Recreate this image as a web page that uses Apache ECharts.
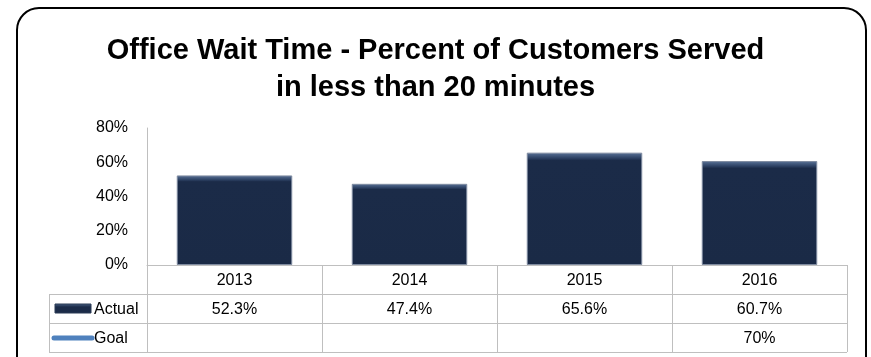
<!DOCTYPE html>
<html>
<head>
<meta charset="utf-8">
<script src="https://cdn.jsdelivr.net/npm/echarts@6/dist/echarts.min.js"></script>
<style>
  html, body { margin: 0; padding: 0; background: #fff; }
  #chart { width: 871px; height: 357px; }
</style>
</head>
<body>
<div id="chart"></div>
<script>
// data
var years = ['2013', '2014', '2015', '2016']
var actual = [52.3, 47.4, 65.6, 60.7]
var goal = [null, null, null, 70]
var yTicks = [0, 20, 40, 60, 80]

var FONT = '"Liberation Sans", Arial, sans-serif'
var GRID_LEFT = 147
var GRID_RIGHT = 24
var GRID_TOP = 128
var GRID_BOTTOM = 92
var ROW_H = 29
var TABLE_LEFT = 49
var LINE = '#bfbfbf'

var chart = echarts.init(document.getElementById('chart'))

var base = 357 - GRID_BOTTOM
var right = 871 - GRID_RIGHT

// frame, table borders + legend keys (decoration only)
var graphics = [
  {
    type: 'rect',
    shape: { x: 17, y: 8, width: 849, height: 380, r: 22 },
    style: { fill: 'none', stroke: '#000', lineWidth: 2 },
    silent: true
  }
]
for (var r = 1; r <= 3; r++) {
  graphics.push({
    type: 'line',
    shape: { x1: TABLE_LEFT, y1: base + r * ROW_H + 0.5, x2: right, y2: base + r * ROW_H + 0.5 },
    style: { stroke: LINE, lineWidth: 1 }
  })
}
graphics.push({
  type: 'line',
  shape: { x1: TABLE_LEFT + 0.5, y1: base + ROW_H, x2: TABLE_LEFT + 0.5, y2: base + 3 * ROW_H },
  style: { stroke: LINE, lineWidth: 1 }
})
graphics.push({
  type: 'rect',
  shape: { x: 55, y: base + ROW_H + 10, width: 36, height: 9 },
  style: {
    fill: new echarts.graphic.LinearGradient(0, 0, 0, 1, [
      { offset: 0, color: '#4a6286' },
      { offset: 0.35, color: '#1b2b48' },
      { offset: 1, color: '#1b2b48' }
    ]),
    stroke: '#2a3a55'
  }
})
graphics.push({
  type: 'text',
  style: { text: 'Actual', x: 94, y: base + ROW_H + 16, fontSize: 16, fontFamily: FONT, fill: '#000', verticalAlign: 'middle' }
})
graphics.push({
  type: 'line',
  shape: { x1: 54, y1: base + 2 * ROW_H + 15, x2: 92, y2: base + 2 * ROW_H + 15 },
  style: { stroke: '#4f81bd', lineWidth: 5, lineCap: 'round' }
})
graphics.push({
  type: 'text',
  style: { text: 'Goal', x: 94, y: base + 2 * ROW_H + 16, fontSize: 16, fontFamily: FONT, fill: '#000', verticalAlign: 'middle' }
})

function pct (v) {
  return v == null ? '' : v + '%'
}

var cellLabel = { margin: 8, fontSize: 16, fontFamily: FONT, color: '#000' }

var option = {
  backgroundColor: '#ffffff',
  animation: false,
  title: {
    text: 'Office Wait Time - Percent of Customers Served\nin less than 20 minutes',
    left: 'center',
    top: 27,
    textStyle: {
      fontFamily: FONT,
      fontWeight: 'bold',
      fontSize: 29,
      lineHeight: 37,
      color: '#000'
    }
  },
  grid: {
    left: GRID_LEFT,
    right: GRID_RIGHT,
    top: GRID_TOP,
    bottom: GRID_BOTTOM,
    containLabel: false
  },
  xAxis: [
    {
      type: 'category',
      data: years,
      position: 'bottom',
      axisLine: { lineStyle: { color: LINE } },
      axisTick: { show: true, length: 3 * ROW_H, lineStyle: { color: LINE } },
      axisLabel: cellLabel
    },
    {
      type: 'category',
      data: actual.map(pct),
      position: 'bottom',
      offset: ROW_H,
      axisLine: { show: false },
      axisTick: { show: false },
      axisLabel: cellLabel
    },
    {
      type: 'category',
      data: goal.map(pct),
      position: 'bottom',
      offset: 2 * ROW_H,
      axisLine: { show: false },
      axisTick: { show: false },
      axisLabel: cellLabel
    }
  ],
  yAxis: {
    type: 'value',
    min: yTicks[0],
    max: yTicks[yTicks.length - 1],
    interval: yTicks[1] - yTicks[0],
    axisLine: { show: true, lineStyle: { color: LINE } },
    axisTick: { show: false },
    splitLine: { show: false },
    axisLabel: {
      margin: 19,
      fontSize: 16,
      fontFamily: FONT,
      color: '#000',
      formatter: '{value}%'
    }
  },
  series: [
    {
      name: 'Actual',
      type: 'bar',
      xAxisIndex: 0,
      data: actual,
      barWidth: '66%',
      itemStyle: {
        color: new echarts.graphic.LinearGradient(0, 0, 0, 1, [
          { offset: 0, color: '#5a7398' },
          { offset: 0.05, color: '#2c4062' },
          { offset: 0.07, color: '#1b2b48' },
          { offset: 1, color: '#1a2a46' }
        ]),
        borderColor: '#7f8ba0',
        borderWidth: 1
      }
    },
    {
      name: 'Goal',
      type: 'line',
      xAxisIndex: 0,
      data: goal,
      showSymbol: false,
      lineStyle: { color: '#4f81bd', width: 4 }
    }
  ],
  graphic: graphics
}

chart.setOption(option)
</script>
</body>
</html>
